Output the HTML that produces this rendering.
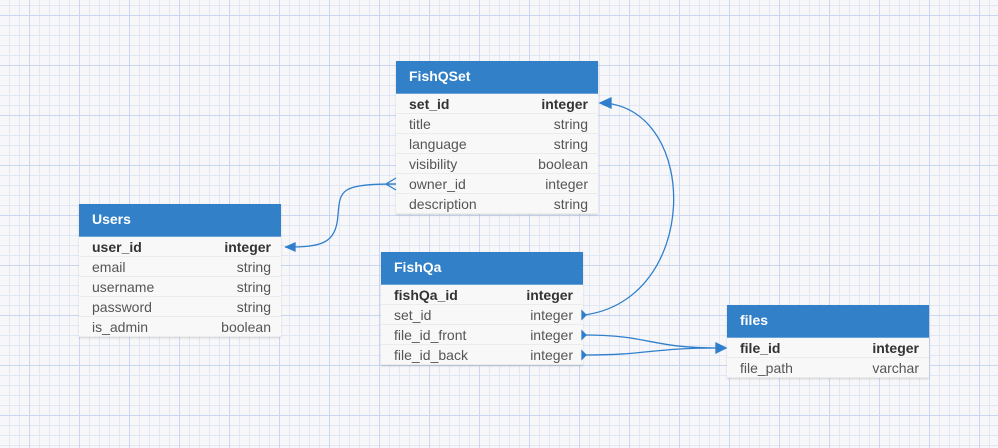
<!DOCTYPE html>
<html><head><meta charset="utf-8"><style>
body{margin:0;width:998px;height:448px;overflow:hidden;font-family:"Liberation Sans",sans-serif;
background-color:#f7f7f9;
background-image:linear-gradient(to right,#c9d7f2 1px,transparent 1px),linear-gradient(to bottom,#c9d7f2 1px,transparent 1px),linear-gradient(to right,#e0e7f6 1px,transparent 1px),linear-gradient(to bottom,#e0e7f6 1px,transparent 1px);
background-size:50px 50px,50px 50px,10px 10px,10px 10px;
background-position:29px 0,0 15px,9px 0,0 5px;position:relative}
.t{position:absolute;width:202px;background:#f8f8f8;box-shadow:0 1px 2px rgba(0,0,0,.15)}
.h{background:#3180c8;color:#fff;font-weight:bold;font-size:14px;height:33px;line-height:30px;padding-left:13px;border-bottom:1px solid #6aa2d8;box-sizing:border-box}
.r{height:20px;line-height:20px;font-size:14px;color:#555;padding:0 10px 0 13px;display:flex;justify-content:space-between;border-bottom:1px solid #ececec;box-sizing:border-box}
.r.k{font-weight:bold;color:#333}
svg{position:absolute;left:0;top:0}
</style></head><body>
<div class="t" style="left:396px;top:61px"><div class="h">FishQSet</div>
<div class="r k"><span>set_id</span><span>integer</span></div>
<div class="r"><span>title</span><span>string</span></div>
<div class="r"><span>language</span><span>string</span></div>
<div class="r"><span>visibility</span><span>boolean</span></div>
<div class="r"><span>owner_id</span><span>integer</span></div>
<div class="r"><span>description</span><span>string</span></div></div>
<div class="t" style="left:79px;top:204px"><div class="h">Users</div>
<div class="r k"><span>user_id</span><span>integer</span></div>
<div class="r"><span>email</span><span>string</span></div>
<div class="r"><span>username</span><span>string</span></div>
<div class="r"><span>password</span><span>string</span></div>
<div class="r"><span>is_admin</span><span>boolean</span></div></div>
<div class="t" style="left:381px;top:252px"><div class="h">FishQa</div>
<div class="r k"><span>fishQa_id</span><span>integer</span></div>
<div class="r"><span>set_id</span><span>integer</span></div>
<div class="r"><span>file_id_front</span><span>integer</span></div>
<div class="r"><span>file_id_back</span><span>integer</span></div></div>
<div class="t" style="left:727px;top:305px"><div class="h">files</div>
<div class="r k"><span>file_id</span><span>integer</span></div>
<div class="r"><span>file_path</span><span>varchar</span></div></div>
<svg width="998" height="448" fill="none" stroke="#2f7fcc" stroke-width="1.3">
<path d="M396 184 C340 184 340 190 338 215 C336 245 320 247 285 247"/>
<path d="M396 184 L386 184 M396 178 L386 184 L396 190"/>
<path d="M286 247 L295 243 L295 251 Z" fill="#2f7fcc"/>
<path d="M584 315 C700 300 700 110 604 103"/>
<path d="M600 103 L611 98 L611 108 Z" fill="#2f7fcc"/>
<path d="M584 335 C650 335 650 348 718 348 M584 355 C650 355 650 348 718 348"/>
<path d="M726 348 L716 343 L716 353 Z" fill="#2f7fcc"/>
<path d="M582 311 L586 315 L582 319 Z M582 331 L586 335 L582 339 Z M582 351 L586 355 L582 359 Z" fill="#2f7fcc"/>
</svg>
</body></html>
